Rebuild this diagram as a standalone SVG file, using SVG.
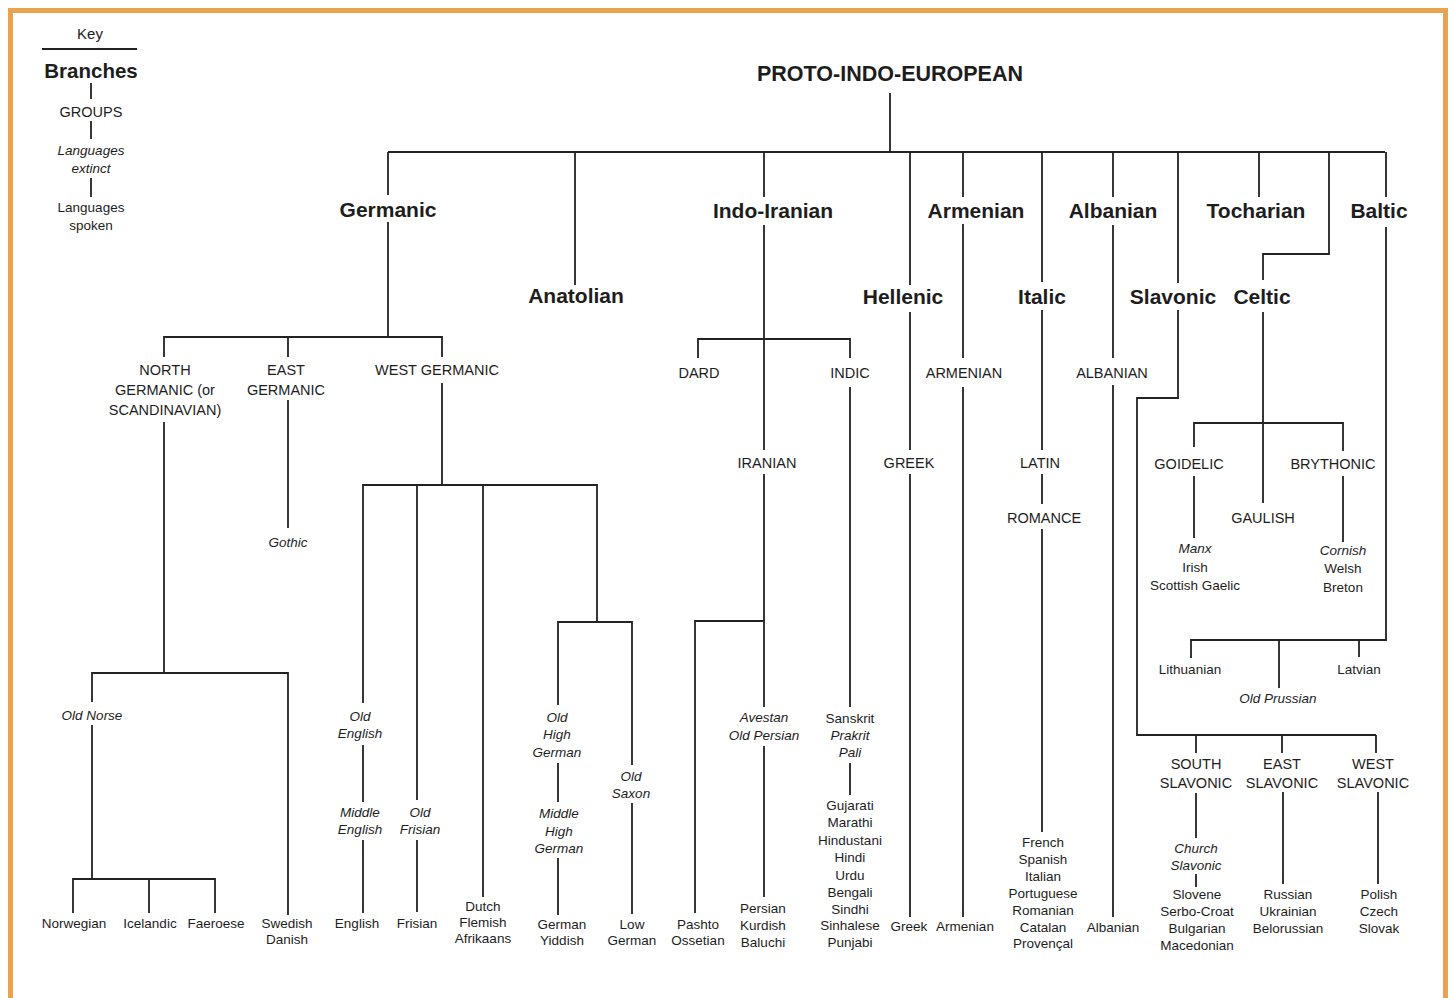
<svg xmlns="http://www.w3.org/2000/svg" width="1453" height="998" viewBox="0 0 1453 998">
<style>
text{font-family:"Liberation Sans",Arial,sans-serif;fill:#1d1d1d;text-anchor:middle}
.br{font-size:21px;font-weight:bold}
.ti{font-size:21.5px;font-weight:bold}
.gr{font-size:14.5px}
.lf{font-size:13.5px}
.it{font-style:italic}
.ln{fill:none;stroke:#222;stroke-width:1.8}
</style>
<rect width="1453" height="998" fill="#fff"/>
<path d="M10.5 998 V10.5 H1445.5 V998" fill="none" stroke="#E9A24F" stroke-width="5"/>

<g id="key">
<text x="90" y="39" style="font-size:15px">Key</text>
<line x1="42" y1="49" x2="137" y2="49" class="ln" stroke-width="1.2"/>
<text x="91" y="78" style="font-size:20.5px;font-weight:bold">Branches</text>
<line x1="91" y1="83" x2="91" y2="99" class="ln"/>
<text x="91" y="117" class="gr">GROUPS</text>
<line x1="91" y1="121" x2="91" y2="139" class="ln"/>
<text class="lf it"><tspan x="91" y="155">Languages</tspan><tspan x="91" y="173">extinct</tspan></text>
<line x1="91" y1="178" x2="91" y2="197" class="ln"/>
<text class="lf"><tspan x="91" y="212">Languages</tspan><tspan x="91" y="230">spoken</tspan></text>
</g>

<g id="connectors" class="ln">
<path d="M890 93 V152 M388 152 H1385"/>
<path d="M388 152 V195 M388 222 V337"/>
<path d="M575 152 V285"/>
<path d="M764 152 V197 M764 225 V450 M764 474 V707 M764 746 V897"/>
<path d="M910 152 V285 M910 312 V450 M910 474 V917"/>
<path d="M963 152 V197 M963 224 V358 M963 387 V917"/>
<path d="M1042 152 V282 M1042 310 V450 M1042 474 V504 M1042 529 V832"/>
<path d="M1113 152 V197 M1113 225 V358 M1113 385 V917"/>
<path d="M1178 152 V283 M1178 310 V398 H1137 V735 H1376 M1196 735 V753 M1282 735 V753 M1376 735 V753"/>
<path d="M1196 793 V838 M1196 874 V887 M1283 792 V884 M1378 792 V884"/>
<path d="M1259 152 V197"/>
<path d="M1329 152 V254 H1263 V280 M1263 312 V503 M1194 447 V423 H1343 V451 M1194 476 V538 M1343 476 V542"/>
<path d="M1386 152 V197 M1386 227 V640 H1191 V658 M1279 640 V688 M1359 640 V657"/>
<path d="M164 357 V337 H442 V357 M288 337 V357"/>
<path d="M164 422 V673 M92 702 V673 H288 V915 M92 725 V879 M73 913 V879 H215 V913 M149 879 V913"/>
<path d="M288 400 V528"/>
<path d="M442 383 V485 M363 703 V485 H597 V622 M363 745 V802 M363 840 V913 M417 485 V800 M417 840 V912 M483 485 V897"/>
<path d="M558 705 V622 H632 V765 M558 763 V802 M558 858 V915 M632 803 V914"/>
<path d="M698 358 V339 H850 V358 M850 387 V707 M850 763 V795"/>
<path d="M695 913 V621 H764"/>
</g>

<g id="pie"><text x="890" y="81" class="ti">PROTO-INDO-EUROPEAN</text></g>

<g id="germanic"><text x="388" y="217" class="br">Germanic</text></g>
<g id="anatolian"><text x="576" y="303" class="br">Anatolian</text></g>
<g id="indo-iranian"><text x="773" y="218" class="br">Indo-Iranian</text></g>
<g id="hellenic"><text x="903" y="304" class="br">Hellenic</text></g>
<g id="armenian"><text x="976" y="218" class="br">Armenian</text></g>
<g id="italic"><text x="1042" y="304" class="br">Italic</text></g>
<g id="albanian"><text x="1113" y="218" class="br">Albanian</text></g>
<g id="slavonic"><text x="1173" y="304" class="br">Slavonic</text></g>
<g id="celtic"><text x="1262" y="304" class="br">Celtic</text></g>
<g id="tocharian"><text x="1256" y="218" class="br">Tocharian</text></g>
<g id="baltic"><text x="1379" y="218" class="br">Baltic</text></g>

<g id="north-germanic"><text class="gr"><tspan x="165" y="375">NORTH</tspan><tspan x="165" y="395">GERMANIC (or</tspan><tspan x="165" y="415">SCANDINAVIAN)</tspan></text></g>
<g id="east-germanic"><text class="gr"><tspan x="286" y="375">EAST</tspan><tspan x="286" y="395">GERMANIC</tspan></text></g>
<g id="west-germanic"><text x="437" y="375" class="gr">WEST GERMANIC</text></g>
<g id="gothic"><text x="288" y="547" class="lf it">Gothic</text></g>
<g id="old-norse"><text x="92" y="720" class="lf it">Old Norse</text></g>
<g id="norwegian"><text x="74" y="928" class="lf">Norwegian</text></g>
<g id="icelandic"><text x="150" y="928" class="lf">Icelandic</text></g>
<g id="faeroese"><text x="216" y="928" class="lf">Faeroese</text></g>
<g id="swedish"><text class="lf"><tspan x="287" y="928">Swedish</tspan><tspan x="287" y="944">Danish</tspan></text></g>
<g id="old-english"><text class="lf it"><tspan x="360" y="721">Old</tspan><tspan x="360" y="738">English</tspan></text></g>
<g id="middle-english"><text class="lf it"><tspan x="360" y="817">Middle</tspan><tspan x="360" y="834">English</tspan></text></g>
<g id="english"><text x="357" y="928" class="lf">English</text></g>
<g id="old-frisian"><text class="lf it"><tspan x="420" y="817">Old</tspan><tspan x="420" y="834">Frisian</tspan></text></g>
<g id="frisian"><text x="417" y="928" class="lf">Frisian</text></g>
<g id="dutch"><text class="lf"><tspan x="483" y="911">Dutch</tspan><tspan x="483" y="927">Flemish</tspan><tspan x="483" y="943">Afrikaans</tspan></text></g>
<g id="ohg"><text class="lf it"><tspan x="557" y="722">Old</tspan><tspan x="557" y="739">High</tspan><tspan x="557" y="757">German</tspan></text></g>
<g id="mhg"><text class="lf it"><tspan x="559" y="818">Middle</tspan><tspan x="559" y="836">High</tspan><tspan x="559" y="853">German</tspan></text></g>
<g id="german"><text class="lf"><tspan x="562" y="929">German</tspan><tspan x="562" y="945">Yiddish</tspan></text></g>
<g id="old-saxon"><text class="lf it"><tspan x="631" y="781">Old</tspan><tspan x="631" y="798">Saxon</tspan></text></g>
<g id="low-german"><text class="lf"><tspan x="632" y="929">Low</tspan><tspan x="632" y="945">German</tspan></text></g>

<g id="dard"><text x="699" y="378" class="gr">DARD</text></g>
<g id="indic"><text x="850" y="378" class="gr">INDIC</text></g>
<g id="iranian"><text x="767" y="468" class="gr">IRANIAN</text></g>
<g id="pashto"><text class="lf"><tspan x="698" y="929">Pashto</tspan><tspan x="698" y="945">Ossetian</tspan></text></g>
<g id="avestan"><text class="lf it"><tspan x="764" y="722">Avestan</tspan><tspan x="764" y="740">Old Persian</tspan></text></g>
<g id="persian"><text class="lf"><tspan x="763" y="913">Persian</tspan><tspan x="763" y="930">Kurdish</tspan><tspan x="763" y="947">Baluchi</tspan></text></g>
<g id="sanskrit"><text class="lf"><tspan x="850" y="723">Sanskrit</tspan><tspan x="850" y="740" font-style="italic">Prakrit</tspan><tspan x="850" y="757" font-style="italic">Pali</tspan></text></g>
<g id="modern-indic"><text class="lf"><tspan x="850" y="810">Gujarati</tspan><tspan x="850" y="827">Marathi</tspan><tspan x="850" y="845">Hindustani</tspan><tspan x="850" y="862">Hindi</tspan><tspan x="850" y="880">Urdu</tspan><tspan x="850" y="897">Bengali</tspan><tspan x="850" y="914">Sindhi</tspan><tspan x="850" y="930">Sinhalese</tspan><tspan x="850" y="947">Punjabi</tspan></text></g>

<g id="greek-group"><text x="909" y="468" class="gr">GREEK</text></g>
<g id="greek"><text x="909" y="931" class="lf">Greek</text></g>
<g id="armenian-group"><text x="964" y="378" class="gr">ARMENIAN</text></g>
<g id="armenian-lang"><text x="965" y="931" class="lf">Armenian</text></g>
<g id="latin"><text x="1040" y="468" class="gr">LATIN</text></g>
<g id="romance"><text x="1044" y="523" class="gr">ROMANCE</text></g>
<g id="romance-langs"><text class="lf"><tspan x="1043" y="847">French</tspan><tspan x="1043" y="864">Spanish</tspan><tspan x="1043" y="881">Italian</tspan><tspan x="1043" y="898">Portuguese</tspan><tspan x="1043" y="915">Romanian</tspan><tspan x="1043" y="932">Catalan</tspan><tspan x="1043" y="948">Provençal</tspan></text></g>
<g id="albanian-group"><text x="1112" y="378" class="gr">ALBANIAN</text></g>
<g id="albanian-lang"><text x="1113" y="932" class="lf">Albanian</text></g>

<g id="goidelic"><text x="1189" y="469" class="gr">GOIDELIC</text></g>
<g id="brythonic"><text x="1333" y="469" class="gr">BRYTHONIC</text></g>
<g id="gaulish"><text x="1263" y="523" class="gr">GAULISH</text></g>
<g id="goidelic-langs"><text class="lf"><tspan x="1195" y="553" font-style="italic">Manx</tspan><tspan x="1195" y="572">Irish</tspan><tspan x="1195" y="590">Scottish Gaelic</tspan></text></g>
<g id="brythonic-langs"><text class="lf"><tspan x="1343" y="555" font-style="italic">Cornish</tspan><tspan x="1343" y="573">Welsh</tspan><tspan x="1343" y="592">Breton</tspan></text></g>

<g id="lithuanian"><text x="1190" y="674" class="lf">Lithuanian</text></g>
<g id="latvian"><text x="1359" y="674" class="lf">Latvian</text></g>
<g id="old-prussian"><text x="1278" y="703" class="lf it">Old Prussian</text></g>

<g id="south-slavonic"><text class="gr"><tspan x="1196" y="769">SOUTH</tspan><tspan x="1196" y="788">SLAVONIC</tspan></text></g>
<g id="east-slavonic"><text class="gr"><tspan x="1282" y="769">EAST</tspan><tspan x="1282" y="788">SLAVONIC</tspan></text></g>
<g id="west-slavonic"><text class="gr"><tspan x="1373" y="769">WEST</tspan><tspan x="1373" y="788">SLAVONIC</tspan></text></g>
<g id="church-slavonic"><text class="lf it"><tspan x="1196" y="853">Church</tspan><tspan x="1196" y="870">Slavonic</tspan></text></g>
<g id="south-langs"><text class="lf"><tspan x="1197" y="899">Slovene</tspan><tspan x="1197" y="916">Serbo-Croat</tspan><tspan x="1197" y="933">Bulgarian</tspan><tspan x="1197" y="950">Macedonian</tspan></text></g>
<g id="east-langs"><text class="lf"><tspan x="1288" y="899">Russian</tspan><tspan x="1288" y="916">Ukrainian</tspan><tspan x="1288" y="933">Belorussian</tspan></text></g>
<g id="west-langs"><text class="lf"><tspan x="1379" y="899">Polish</tspan><tspan x="1379" y="916">Czech</tspan><tspan x="1379" y="933">Slovak</tspan></text></g>
</svg>
